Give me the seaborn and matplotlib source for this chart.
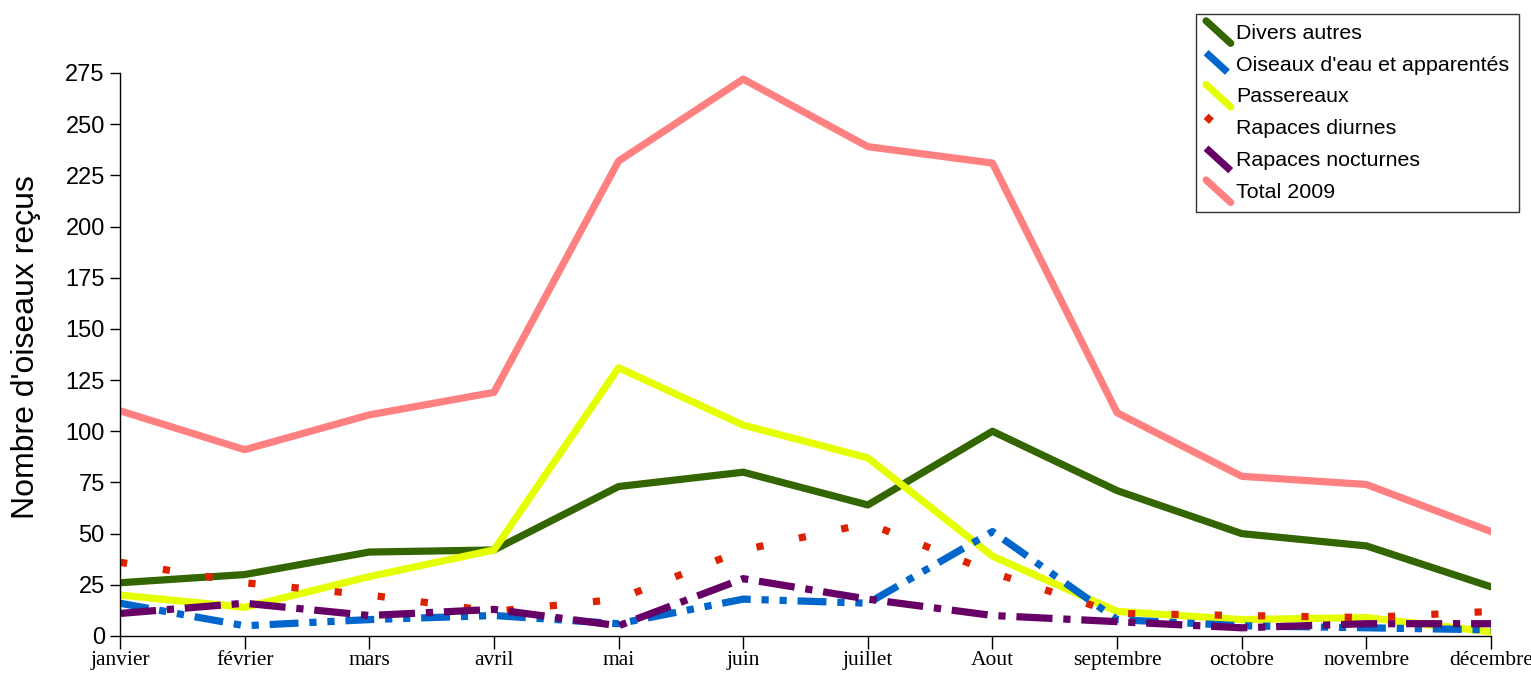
import matplotlib
matplotlib.use("Agg")
import matplotlib.pyplot as plt
import seaborn as sns
import pandas as pd
import numpy as np
from matplotlib.legend_handler import HandlerBase
from matplotlib.lines import Line2D

months = ["janvier", "février", "mars", "avril", "mai", "juin", "juillet",
          "Aout", "septembre", "octobre", "novembre", "décembre"]
divers_autres = [26, 30, 41, 42, 73, 80, 64, 100, 71, 50, 44, 24]
oiseaux_eau = [16, 5, 8, 10, 6, 18, 16, 51, 8, 5, 4, 3]
passereaux = [20, 14, 29, 42, 131, 103, 87, 39, 12, 8, 9, 2]
rapaces_diurnes = [36, 26, 20, 12, 18, 42, 55, 31, 11, 10, 9, 12]
rapaces_nocturnes = [11, 16, 10, 13, 5, 28, 18, 10, 7, 4, 6, 6]
total_2009 = [110, 91, 108, 119, 232, 272, 239, 231, 109, 78, 74, 51]

series = {
    "Divers autres": divers_autres,
    "Oiseaux d'eau et apparentés": oiseaux_eau,
    "Passereaux": passereaux,
    "Rapaces diurnes": rapaces_diurnes,
    "Rapaces nocturnes": rapaces_nocturnes,
    "Total 2009": total_2009,
}
colors = {
    "Divers autres": "#336600",
    "Oiseaux d'eau et apparentés": "#0066cc",
    "Passereaux": "#e6ff00",
    "Rapaces diurnes": "#dd2200",
    "Rapaces nocturnes": "#660066",
    "Total 2009": "#ff8080",
}
dashes = {
    "Divers autres": None,
    "Oiseaux d'eau et apparentés": (4, 1.5, 1, 1.5, 1, 1.5),
    "Passereaux": None,
    "Rapaces diurnes": (1, 5),
    "Rapaces nocturnes": (5, 1.5, 1, 1.5),
    "Total 2009": None,
}


class DiagHandler(HandlerBase):
    def create_artists(self, legend, orig_handle, xdescent, ydescent,
                       width, height, fontsize, trans):
        x0 = -xdescent
        ln = Line2D([x0, x0 + width], [height * 1.2, -height * 0.3])
        ln.update_from(orig_handle)
        ln.set_clip_on(False)
        ln.set_clip_box(None)
        ln.set_clip_path(None)
        ln.set_transform(trans)
        return [ln]


sns.set_theme(style="white")
plt.rcParams["text.color"] = "black"
plt.rcParams["xtick.color"] = "black"
plt.rcParams["ytick.color"] = "black"
fig = plt.figure(figsize=(15.31, 6.75), dpi=100)
ax = fig.add_axes([0.0784, 0.0578, 0.8955, 0.8341])

x = np.arange(len(months))
order = ["Total 2009", "Divers autres", "Passereaux", "Rapaces diurnes",
         "Oiseaux d'eau et apparentés", "Rapaces nocturnes"]
lines = {}
for name in order:
    df = pd.DataFrame({"x": x, "y": series[name]})
    sns.lineplot(data=df, x="x", y="y", ax=ax, color=colors[name], lw=5.2,
                 label=name, legend=False)
    ln = ax.get_lines()[-1]
    if dashes[name] is not None:
        ln.set_dashes(dashes[name])
        ln.set_dash_capstyle("butt")
    lines[name] = ln

ax.set_xlim(0, 11)
ax.set_ylim(0, 275)
ax.set_yticks(np.arange(0, 276, 25))
ax.set_xticks(x)
ax.set_xticklabels(months, fontfamily="Liberation Serif", fontsize=15.5, color="black")
for t in ax.get_yticklabels():
    t.set_fontfamily("Liberation Sans")
    t.set_fontsize(17)
    t.set_color("black")
ax.set_xlabel("")
ax.set_ylabel("Nombre d'oiseaux reçus", fontfamily="Liberation Sans", fontsize=23,
              color="black")
ax.yaxis.set_label_coords(-0.058, 0.513)
for s in ["top", "right"]:
    ax.spines[s].set_visible(False)
for s in ["left", "bottom"]:
    ax.spines[s].set_color("black")
    ax.spines[s].set_linewidth(1)
ax.tick_params(axis="y", direction="out", length=7, width=1, color="black", left=True, pad=4)
ax.tick_params(axis="x", direction="out", length=9, width=1, color="black", bottom=True, pad=2)

legend_order = ["Divers autres", "Oiseaux d'eau et apparentés", "Passereaux",
                "Rapaces diurnes", "Rapaces nocturnes", "Total 2009"]
leg = fig.legend([lines[n] for n in legend_order], legend_order,
                 loc="upper left", bbox_to_anchor=(0.7815, 0.979),
                 prop={"family": "Liberation Sans", "size": 15.4},
                 frameon=True, fancybox=False, edgecolor="black",
                 handlelength=1.15, handletextpad=0.25, labelspacing=0.6,
                 borderpad=0.45, borderaxespad=0,
                 handler_map={Line2D: DiagHandler()})
leg.get_frame().set_linewidth(1)

fig.savefig("out.png", dpi=100)
